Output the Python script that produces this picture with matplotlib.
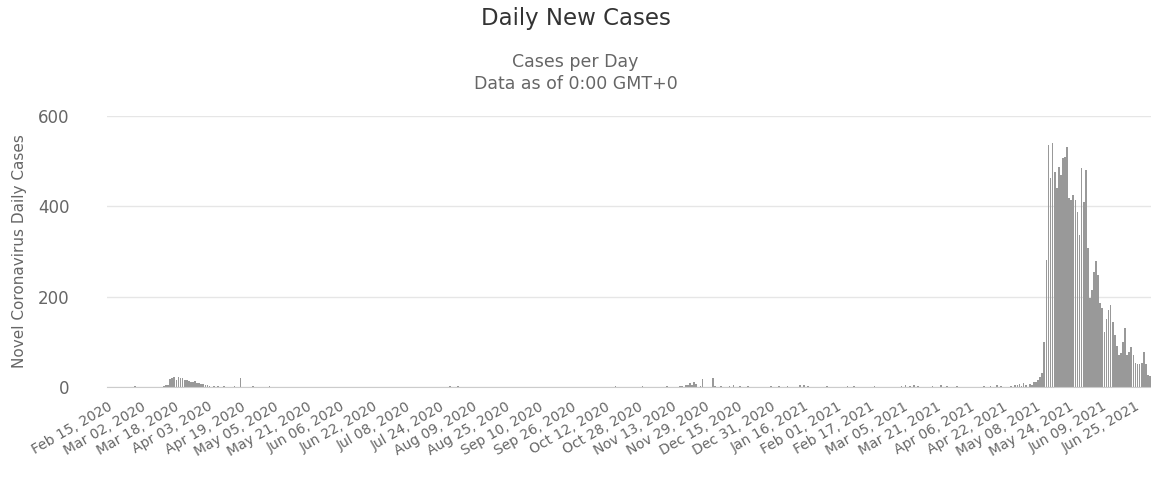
import numpy as np
import pandas as pd
import matplotlib
matplotlib.use("Agg")
import matplotlib.pyplot as plt

# daily new cases, one row per 16 days (row k starts at tick label k)
start_date = "2020-02-15"
daily_cases = [
    0, 1, 0, 0, 0, 0, 0, 0, 0, 0, 0, 0, 0, 3, 0, 0,
    0, 0, 0, 0, 1, 0, 0, 0, 0, 0, 0, 2, 5, 4, 18, 20,
    22, 16, 22, 20, 21, 15, 16, 14, 12, 11, 13, 8, 9, 7, 6, 5,
    4, 3, 1, 2, 0, 3, 1, 0, 2, 1, 0, 0, 0, 3, 0, 0,
    20, 0, 1, 0, 0, 0, 2, 0, 0, 0, 0, 1, 0, 0, 3, 0,
    0, 0, 0, 0, 1, 0, 0, 0, 0, 0, 0, 0, 1, 0, 0, 0,
    0, 0, 0, 0, 0, 0, 1, 0, 0, 0, 0, 0, 0, 0, 0, 0,
    0, 0, 0, 1, 0, 0, 0, 0, 0, 0, 0, 0, 0, 0, 0, 0,
    0, 0, 0, 0, 0, 0, 0, 0, 1, 0, 0, 0, 0, 0, 0, 0,
    0, 0, 0, 0, 0, 0, 0, 0, 0, 0, 0, 0, 0, 0, 0, 0,
    0, 0, 0, 0, 0, 2, 0, 0, 0, 3, 0, 0, 0, 0, 0, 0,
    0, 0, 0, 0, 0, 0, 0, 0, 0, 0, 0, 0, 1, 0, 0, 0,
    0, 0, 0, 0, 0, 0, 0, 0, 0, 0, 0, 0, 0, 0, 0, 0,
    0, 0, 0, 0, 0, 0, 0, 0, 0, 0, 0, 0, 0, 0, 0, 0,
    0, 0, 0, 0, 0, 0, 0, 1, 0, 0, 0, 0, 0, 0, 0, 0,
    0, 0, 0, 0, 0, 2, 0, 0, 0, 0, 0, 0, 0, 0, 0, 0,
    0, 0, 2, 0, 0, 0, 0, 0, 0, 0, 0, 0, 0, 0, 2, 0,
    0, 0, 0, 0, 3, 2, 0, 4, 5, 8, 4, 12, 6, 0, 3, 18,
    0, 0, 0, 0, 20, 3, 0, 0, 2, 0, 0, 0, 3, 0, 4, 0,
    0, 3, 0, 0, 0, 2, 0, 0, 0, 0, 0, 0, 0, 0, 0, 0,
    2, 0, 0, 0, 3, 0, 0, 0, 2, 0, 0, 0, 0, 0, 4, 0,
    5, 0, 3, 0, 0, 0, 0, 0, 0, 0, 0, 3, 0, 0, 0, 0,
    0, 0, 0, 0, 0, 2, 0, 0, 3, 0, 0, 0, 0, 0, 0, 0,
    0, 0, 2, 0, 0, 0, 0, 0, 0, 0, 0, 0, 0, 0, 0, 3,
    0, 4, 0, 3, 0, 5, 0, 3, 0, 0, 0, 0, 0, 0, 2, 0,
    0, 0, 4, 0, 0, 3, 0, 0, 0, 0, 2, 0, 0, 0, 0, 0,
    0, 0, 0, 0, 0, 0, 0, 2, 0, 0, 3, 0, 0, 4, 0, 2,
    0, 0, 0, 0, 3, 0, 5, 4, 6, 3, 8, 5, 0, 7, 4, 10,
    12, 15, 22, 30, 100, 281, 536, 463, 540, 476, 441, 487, 470, 507, 510, 532,
    419, 415, 425, 414, 388, 337, 485, 410, 480, 308, 197, 215, 254, 279, 248, 186,
    175, 122, 150, 170, 182, 144, 115, 90, 71, 75, 100, 130, 71, 78, 89, 71,
    53, 52, 52, 53, 78, 52, 27, 25,
]
y_ticks = [0, 200, 400, 600]
label_step = 16

dates = pd.date_range(start_date, periods=len(daily_cases), freq="D")
x = np.arange(len(daily_cases))

plt.rcParams["font.family"] = ["DejaVu Sans"]

fig = plt.figure(figsize=(11.51, 4.88), dpi=100)
ax = fig.add_axes([107 / 1151, 101 / 488, 1 - 107 / 1151, 271 / 488])

ax.bar(x, daily_cases, width=0.8, color="#999999", zorder=2)

ax.set_xlim(-0.5, len(daily_cases) - 0.5)
ax.set_ylim(0, 600)
ax.set_yticks(y_ticks)
ax.set_yticklabels([str(t) for t in y_ticks], fontsize=12, color="#666666")
ax.grid(axis="y", color="#e6e6e6", linewidth=1, zorder=0)

tick_pos = x[::label_step]
ax.set_xticks(tick_pos)
ax.set_xticklabels([d.strftime("%b %d, %Y") for d in dates[::label_step]],
                   rotation=30, ha="right", rotation_mode="anchor",
                   fontsize=10, color="#666666")
ax.tick_params(axis="x", length=0, pad=9)
ax.tick_params(axis="y", length=0, pad=27)

for side in ["top", "right", "left"]:
    ax.spines[side].set_visible(False)
ax.spines["bottom"].set_color("#cccccc")

ax.set_ylabel("Novel Coronavirus Daily Cases", fontsize=11, color="#666666",
              labelpad=8)

fig.text(0.5, 1 - 18 / 488, "Daily New Cases", ha="center", va="center",
         fontsize=16.5, color="#333333")
fig.text(0.5, 1 - 62 / 488, "Cases per Day", ha="center", va="center",
         fontsize=12.5, color="#666666")
fig.text(0.5, 1 - 84 / 488, "Data as of 0:00 GMT+0", ha="center", va="center",
         fontsize=12.5, color="#666666")

fig.savefig("out.png", dpi=100)
